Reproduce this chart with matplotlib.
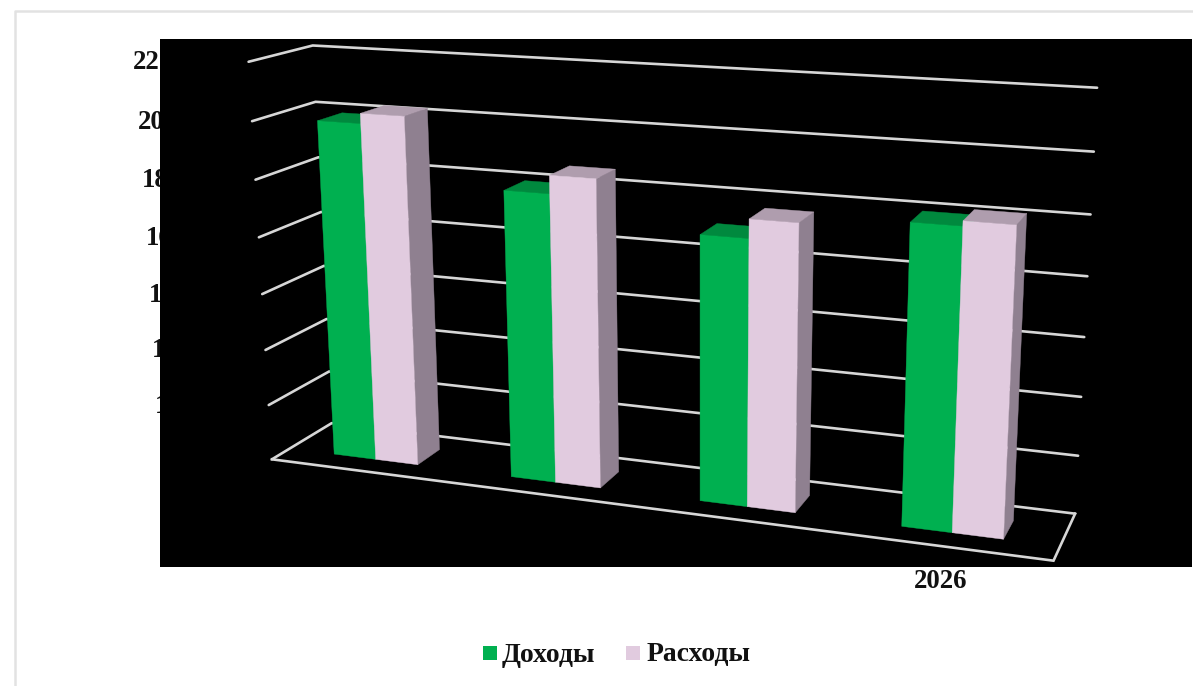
import numpy as np
import matplotlib
matplotlib.use('Agg')
import matplotlib.pyplot as plt
from matplotlib.patches import Polygon, Rectangle

categories = ['2023', '2024', '2025', '2026']
income = [19.92, 18.01, 17.06, 18.0]
expenses = [20.27, 18.63, 17.70, 18.17]
y_ticks = [8, 10, 12, 14, 16, 18, 20, 22]
series_names = ['Доходы', 'Расходы']

plt.rcParams['font.family'] = ['Liberation Serif', 'DejaVu Serif']
fig = plt.figure(figsize=(11.93, 6.86), dpi=100, facecolor='white')
ax = fig.add_axes([0, 0, 1, 1])
ax.set_xlim(0, 1193)
ax.set_ylim(686, 0)
ax.axis('off')

# perspective camera of the 3-D chart box (category, depth, value) -> pixels
front_left = [(272, 459), (268, 405), (265, 350), (262, 294), (258, 238), (256, 180), (253, 121), (249, 62)]
back_right = [(1074, 513), (1079, 456), (1082, 398), (1084, 338), (1087, 276), (1090, 214), (1094, 152), (1097, 87)]
anchors = [(0, 0, v, *p) for v, p in zip(y_ticks, front_left)]
anchors += [(4, 1, v, *p) for v, p in zip(y_ticks, back_right)]
anchors += [(0, 1, 22, 310, 45), (0, 1, 20, 316, 102), (0, 1, 18, 321, 157),
            (4, 0, 8, 1054, 560)]
A = []
for u, d, v, x, y in anchors:
    X = [u, d, v, 1]
    A.append(X + [0, 0, 0, 0] + [-x * t for t in X])
    A.append([0, 0, 0, 0] + X + [-y * t for t in X])
P = np.linalg.svd(np.array(A, float))[2][-1].reshape(3, 4)


def proj(u, d, v):
    h = P @ np.array([u, d, v, 1.0])
    return h[:2] / h[2]


GRID = '#D6D6D6'
LW = 1.9

# frame and black plate
ax.plot([14.5, 14.5, 1193], [686, 10.5, 10.5], color='#E2E2E2', lw=1.8, zorder=1)

label_x = {22: 133, 20: 138, 18: 142, 16: 146, 14: 149, 12: 152, 10: 155}
for v in y_ticks[1:]:
    ax.text(label_x[v], proj(0, 0, v)[1] + 1, str(v), fontsize=19.4, fontweight='bold',
            ha='left', va='center', color='#111111', zorder=2)
ax.add_patch(Rectangle((160, 39), 1032, 528, facecolor='black', edgecolor='none', zorder=3))

# walls and floor
for v in y_ticks:
    pts = np.array([proj(0, 0, v), proj(0, 1, v), proj(4, 1, v)])
    ax.plot(pts[:, 0], pts[:, 1], color=GRID, lw=LW, zorder=4, solid_capstyle='round')
floor = np.array([proj(0, 0, 8), proj(4, 0, 8), proj(4, 1, 8)])
ax.plot(floor[:, 0], floor[:, 1], color=GRID, lw=LW, zorder=4, solid_joinstyle='miter')

# bars
D0, D1 = 0.29, 0.69
START, WIDTH = 0.26, 0.24
colors = [('#00B050', '#00893E', '#008F42'), ('#E1CBDF', '#AF9DAE', '#8F8090')]


def poly(points, color, z):
    ax.add_patch(Polygon(np.array(points), closed=True, facecolor=color, edgecolor=color,
                         lw=0.3, zorder=z))


z = 5
for i in range(len(categories)):
    for s, vals in enumerate([income, expenses]):
        u0 = i + START + s * WIDTH
        u1 = u0 + WIDTH
        v = vals[i]
        front, top, side = colors[s]
        poly([proj(u1, D0, 8), proj(u1, D1, 8), proj(u1, D1, v), proj(u1, D0, v)], side, z)
        poly([proj(u0, D0, v), proj(u1, D0, v), proj(u1, D1, v), proj(u0, D1, v)], top, z)
        poly([proj(u0, D0, 8), proj(u1, D0, 8), proj(u1, D0, v), proj(u0, D0, v)], front, z)
        z += 1

# visible category label
ax.text(940.5, 582, categories[3], fontsize=19.4, fontweight='bold', ha='center', va='center', color='#111111', zorder=6)

# legend
for x, name, col, tx in [(483, series_names[0], colors[0][0], 502), (626, series_names[1], colors[1][0], 646.5)]:
    ax.add_patch(Rectangle((x, 646), 14, 14, facecolor=col, edgecolor='none', zorder=6))
    ax.text(tx, 655, name, fontsize=19.9, fontweight='bold', ha='left', va='center', color='#111111', zorder=6)

fig.savefig('out.png', dpi=100, facecolor='white')
